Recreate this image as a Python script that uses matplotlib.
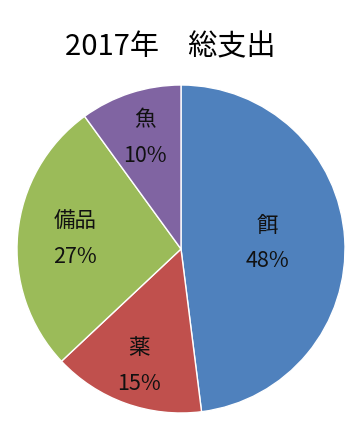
import numpy as np
import matplotlib
matplotlib.use('Agg')
import matplotlib.pyplot as plt

plt.rcParams['font.family'] = ['Noto Sans CJK JP', 'DejaVu Sans']

# data
labels = ['餌', '薬', '備品', '魚']
shares = [48, 15, 27, 10]
colors = ['#4F81BD', '#C0504D', '#9BBB59', '#8064A2']
label_r = [0.53, 0.76, 0.65, 0.71]
title = '2017年　総支出'

fig = plt.figure(figsize=(3.59, 4.26), dpi=100)
ax = fig.add_axes([17 / 359, 13 / 426, 328 / 359, 328 / 426])

wedges, _ = ax.pie(shares, colors=colors, startangle=90, counterclock=False,
                   radius=1.0, wedgeprops=dict(edgecolor='white', linewidth=1))

total = float(sum(shares))
start = 90.0
for lab, val, r in zip(labels, shares, label_r):
    mid = np.deg2rad(start - val / total * 360 / 2)
    start -= val / total * 360
    ax.text(r * np.cos(mid), r * np.sin(mid), f'{lab}\n{val}%',
            ha='center', va='center', fontsize=15.5, linespacing=1.8, color='#111111')

ax.set_xlim(-1, 1)
ax.set_ylim(-1, 1)
ax.set_aspect('equal')
ax.axis('off')

fig.text(170 / 359, 1 - 47 / 426, title, ha='center', va='center', fontsize=21)

fig.savefig('out.png', dpi=100)
